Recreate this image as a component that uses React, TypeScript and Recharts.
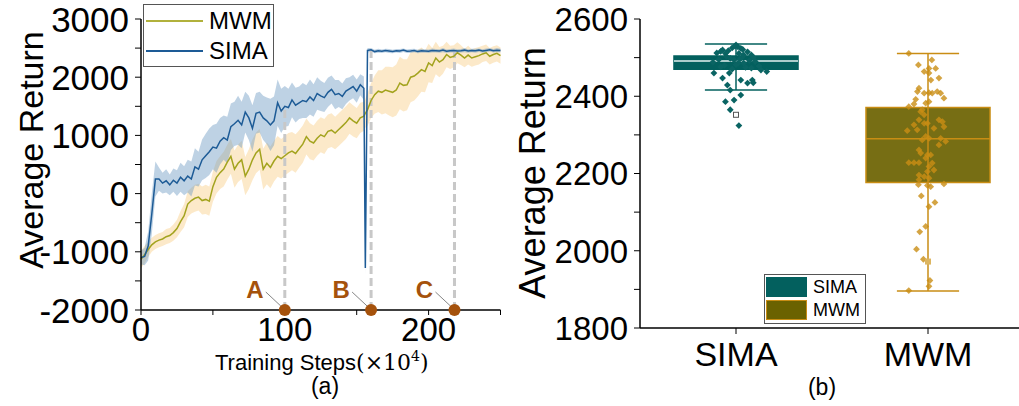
import React from 'react';
import {
  ComposedChart,
  Line,
  Area,
  Scatter,
  XAxis,
  YAxis,
  ReferenceLine,
  ReferenceDot,
  ReferenceArea,
} from 'recharts';

const FONT = '"Liberation Sans", Arial, sans-serif';

// ---- panel (a): learning curves ----
const steps = [
  0, 2.5, 5, 7.5, 10, 12.5, 15, 17.5, 20, 22.5, 25, 27.5, 30, 32.5, 35, 37.5, 40, 42.5, 45, 47.5, 50,
  52.5, 55, 57.5, 60, 62.5, 65, 67.5, 70, 72.5, 75, 77.5, 80, 82.5, 85, 87.5, 90, 92.5, 95, 97.5, 100,
  102.5, 105, 107.5, 110, 112.5, 115, 117.5, 120, 122.5, 125, 127.5, 130, 132.5, 135, 137.5, 140, 142.5,
  145, 147.5, 150, 152.5, 155, 156, 157.5, 160, 162.5, 165, 167.5, 170, 172.5, 175, 177.5, 180, 182.5,
  185, 187.5, 190, 192.5, 195, 197.5, 200, 202.5, 205, 207.5, 210, 212.5, 215, 217.5, 220, 222.5, 225,
  227.5, 230, 232.5, 235, 237.5, 240, 242.5, 245, 247.5, 250,
];

const simaReturn = [
  -1100, -1080, -900, -350, 250,
  250, 180, 220, 150, 230, 180, 280, 220, 300, 250, 460, 420,
  580, 650, 720, 800, 780, 900, 960, 920,
  1150, 1200, 1260, 1180, 1400, 1300, 1120, 1380,
  1400, 1300, 1250, 1180, 1250, 1560, 1420, 1500,
  1480, 1610, 1520, 1560, 1600, 1580, 1660, 1600,
  1720, 1680, 1650, 1740, 1790, 1700, 1720, 1670,
  1760, 1800, 1840, 1760, 1870, 1810,
  -1280,
  2460, 2470, 2440, 2455, 2445, 2460, 2450, 2440, 2455, 2450, 2465, 2445, 2450, 2460, 2440, 2455, 2450,
  2445, 2460, 2455, 2450, 2465, 2445, 2455, 2460, 2450, 2455, 2465, 2450, 2460, 2455, 2465, 2450, 2460,
  2470, 2455, 2465, 2460,
];

const mwmReturn = [
  -1130, -1050, -960, -880, -830,
  -800, -780, -740, -720, -670, -600, -480, -380, -180, -120, -80, -60,
  -120, -100, -130, 120, 280, 360, 420, 540,
  640, 420, 520, 580, 300, 420, 580, 700,
  760, 420, 520, 450, 560, 640, 600, 650,
  700, 730, 690, 770, 850, 980, 900, 870,
  950, 1010, 980, 1070, 1090, 1040, 1100, 1160,
  1220, 1300, 1250, 1210, 1300, 1330,
  1380,
  1440, 1600, 1700, 1760, 1740, 1780, 1760, 1740, 1780, 1900, 1860, 1870, 2000, 2020, 2070, 2130, 2100,
  2245, 2200, 2330, 2260, 2300, 2390, 2340, 2360, 2420, 2380, 2330, 2380, 2330, 2350, 2370, 2400, 2420,
  2360, 2390, 2410, 2370,
];

const simaSpread = [
  120, 150, 250, 350, 300,
  200, 180, 200, 180, 200, 220, 250, 250, 280, 300, 320, 300,
  350, 380, 400, 380, 420, 400, 380, 400,
  400, 380, 420, 400, 350, 380, 400, 350,
  350, 380, 400, 450, 420, 400, 380, 350,
  320, 300, 300, 280, 300, 280, 300, 280,
  280, 260, 250, 250, 240, 250, 230, 220,
  220, 200, 200, 200, 180, 200,
  100,
  40, 30, 30, 35, 30, 30, 35, 30, 30, 35, 30, 30, 35, 30, 30, 35, 30, 30, 35, 30,
  30, 35, 30, 30, 35, 30, 30, 35, 30, 30, 35, 30, 30, 35, 30, 30, 35, 30,
];

const mwmSpread = [
  150, 150, 130, 120, 120,
  120, 120, 130, 130, 140, 150, 180, 200, 220, 220, 230, 230,
  240, 250, 250, 260, 280, 280, 300, 300,
  300, 320, 320, 330, 330, 340, 350, 350,
  350, 350, 360, 360, 350, 350, 340, 340,
  340, 330, 330, 320, 320, 310, 310, 300,
  300, 300, 300, 290, 290, 280, 280, 280,
  280, 270, 270, 260, 260, 250,
  250,
  280, 300, 330, 360, 380, 400, 420, 430, 440, 450, 450, 440, 430, 420, 400, 380, 360, 330, 300, 280,
  260, 240, 220, 200, 190, 180, 170, 160, 160, 150, 150, 150, 140, 140, 140, 140, 140, 140,
];

const curveTicksX = [0, 50, 100, 150, 200, 250];
const curveLabelsX = [0, 100, 200];
const curveTicksY = [-2000, -1500, -1000, -500, 0, 500, 1000, 1500, 2000, 2500, 3000];
const curveLabelsY = [-2000, -1000, 0, 1000, 2000, 3000];

const phaseNames = ['A', 'B', 'C'];
const phaseSteps = [100, 160, 218];
const phaseTops = [1500, 2450, 2450];

// ---- panel (b): final returns ----
const groups = ['SIMA', 'MWM'];
const boxLow = [2416, 1896];
const boxQ1 = [2470, 2177];
const boxMedian = [2491, 2290];
const boxQ3 = [2504, 2371];
const boxHigh = [2535, 2511];
const boxTicksY = [1800, 1900, 2000, 2100, 2200, 2300, 2400, 2500, 2600];
const boxLabelsY = [1800, 2000, 2200, 2400, 2600];
const squareMarks = [2352, 1972];

const simaFinal = [
  2533, 2520, 2512, 2518, 2525, 2524, 2507, 2507, 2511, 2511, 2528, 2515, 2530, 2516, 2521,
  2460, 2464, 2447, 2460, 2442, 2434, 2442, 2435, 2429, 2416, 2403, 2386, 2390, 2365, 2324,
  2470, 2475, 2480, 2485, 2490, 2495, 2500, 2478, 2488, 2492, 2498, 2482, 2473, 2503, 2486,
  2494, 2468, 2476, 2496, 2501,
];
const simaJitter = [
  0, -0.07, -0.1, -0.04, -0.02, 0.025, 0.04, 0.08, -0.055, 0.015, 0.01, 0.06, -0.005, -0.08, 0.035,
  -0.115, 0.16, -0.07, -0.035, 0.025, 0.06, 0.085, 0.09, -0.045, -0.03, 0.025, -0.055, -0.01, -0.03, 0.015,
  -0.02, 0.05, -0.06, 0.01, 0.1, -0.09, 0.03, 0.12, -0.12, 0.07, -0.03, 0, 0.08, -0.05, 0.04,
  -0.01, 0.13, -0.08, 0.02, 0.09,
];

const mwmFinal = [
  2511, 2494, 2481, 2472, 2472, 2464, 2460, 2447, 2442, 2421, 2412, 2408, 2409, 2408, 2412, 2408,
  2395, 2392, 2382, 2386, 2380, 2373, 2365, 2360, 2352, 2339, 2326, 2330, 2330, 2339, 2334, 2313,
  2311, 2317, 2321, 2296, 2291, 2287, 2291, 2283, 2274, 2261, 2253, 2248, 2248, 2240, 2228, 2228,
  2228, 2227, 2218, 2209, 2205, 2196, 2192, 2188, 2184, 2171, 2169, 2166, 2173, 2142, 2125, 2114,
  2063, 2049, 2004, 1978, 1923, 1908, 1897,
];
const mwmJitter = [
  -0.1, 0.02, -0.05, 0.005, 0.04, -0.02, 0.005, 0.057, 0.015, -0.047, -0.055, -0.02, 0.005, 0.022, 0.048, 0.066,
  0.083, -0.064, -0.012, 0.005, -0.073, -0.1, -0.03, -0.038, -0.02, -0.047, -0.073, -0.02, -0.003, 0.057, 0.075, -0.056,
  -0.108, 0.031, 0.083, -0.012, 0.005, -0.03, 0.066, 0.092, 0.057, -0.047, -0.038, -0.003, 0.014, -0.012, -0.1, -0.073,
  -0.047, 0.022, 0.005, 0.031, -0.003, -0.047, -0.02, 0.005, -0.047, -0.05, -0.003, 0.014, 0.083, -0.035, 0.036, 0.005,
  -0.012, -0.043, -0.06, -0.024, 0.01, 0.005, -0.1,
];

const SIMA_LINE = '#1d5b96';
const MWM_LINE = '#a3a31e';
const TEAL = '#03605e';
const OLIVE = '#6b6200';
const GOLD = '#c98d14';
const BROWN = '#a5520c';

const curveData = steps.map((s, i) => ({
  step: s,
  sima: simaReturn[i],
  mwm: mwmReturn[i],
  simaBand: [simaReturn[i] - simaSpread[i], simaReturn[i] + simaSpread[i]],
  mwmBand: [mwmReturn[i] - mwmSpread[i], mwmReturn[i] + mwmSpread[i]],
}));

const simaDots = simaFinal.map((v, i) => ({ x: 0.5 + simaJitter[i], y: v }));
const mwmDots = mwmFinal.map((v, i) => ({ x: 1.5 + mwmJitter[i], y: v }));
const squareDots = squareMarks.map((v, i) => ({ x: i + 0.5, y: v }));

const StepTick = ({ x, y, payload }: any) =>
  curveLabelsX.includes(payload.value) ? (
    <text x={x} y={y + 24} textAnchor='middle' fontSize={33} fontFamily={FONT} fill='#000'>
      {payload.value}
    </text>
  ) : (
    <g />
  );

const ReturnTick = (labels: number[], size: number) => ({ x, y, payload }: any) =>
  labels.includes(payload.value) ? (
    <text x={x - 4} y={y + size * 0.36} textAnchor='end' fontSize={size} fontFamily={FONT} fill='#000'>
      {payload.value}
    </text>
  ) : (
    <g />
  );

const GroupTick = ({ x, y, payload }: any) => (
  <text x={x} y={y + 30} textAnchor='middle' fontSize={34} fontFamily={FONT} fill='#000'>
    {groups[Math.round(payload.value - 0.5)]}
  </text>
);

const PhaseMark = ({ cx, cy, name }: any) => (
  <g>
    <line x1={cx - 19} y1={cy - 18} x2={cx - 4} y2={cy - 4} stroke='#666' strokeWidth={0.8} />
    <text x={cx - 30} y={cy - 12} textAnchor='middle' fontSize={24} fontWeight='bold' fontFamily={FONT} fill={BROWN}>
      {name}
    </text>
    <circle cx={cx} cy={cy} r={6} fill={BROWN} />
  </g>
);

const Diamond = (color: string, opacity: number) => ({ cx, cy }: any) => (
  <path
    d={`M${cx},${cy - 3.4}L${cx + 3.4},${cy}L${cx},${cy + 3.4}L${cx - 3.4},${cy}Z`}
    fill={color}
    fillOpacity={opacity}
  />
);

const label = (x: number, y: number, size: number, text: string) => (
  <div
    style={{
      position: 'absolute',
      left: x - 200,
      top: y,
      width: 400,
      textAlign: 'center',
      fontFamily: FONT,
      fontSize: size,
      lineHeight: 1,
      whiteSpace: 'nowrap',
    }}
  >
    {text}
  </div>
);

export default function App() {
  return (
    <div
      style={{
        position: 'absolute',
        left: 0,
        top: 0,
        width: 1019,
        height: 406,
        overflow: 'hidden',
        background: '#fff',
      }}
    >
      {/* (a) learning curves */}
      <div style={{ position: 'absolute', left: 0, top: 0 }}>
        <ComposedChart width={510} height={406} data={curveData} margin={{ top: 19, right: 9.5, left: 0, bottom: 0 }}>
          <XAxis
            dataKey='step'
            type='number'
            domain={[0, 250]}
            ticks={curveTicksX}
            tick={StepTick}
            tickSize={5}
            height={96}
            axisLine={{ stroke: '#000', strokeWidth: 1.5 }}
            tickLine={{ stroke: '#000' }}
          />
          <YAxis
            type='number'
            domain={[-2000, 3000]}
            ticks={curveTicksY}
            tick={ReturnTick(curveLabelsY, 35)}
            tickSize={6}
            width={141}
            axisLine={{ stroke: '#000', strokeWidth: 1.5 }}
            tickLine={{ stroke: '#000' }}
          />
          {phaseSteps.map((s, i) => (
            <ReferenceLine
              key={'dash' + i}
              segment={[
                { x: s, y: -2000 },
                { x: s, y: phaseTops[i] },
              ]}
              stroke='#c8c8c8'
              strokeWidth={3}
              strokeDasharray='8 4'
            />
          ))}
          <Area
            dataKey='mwmBand'
            type='linear'
            stroke='none'
            fill='#f9cf88'
            fillOpacity={0.45}
            isAnimationActive={false}
          />
          <Area
            dataKey='simaBand'
            type='linear'
            stroke='none'
            fill='#6f9bc4'
            fillOpacity={0.45}
            isAnimationActive={false}
          />
          <Line dataKey='mwm' type='linear' stroke={MWM_LINE} strokeWidth={1.5} dot={false} isAnimationActive={false} />
          <Line dataKey='sima' type='linear' stroke={SIMA_LINE} strokeWidth={1.5} dot={false} isAnimationActive={false} />
          {phaseSteps.map((s, i) => (
            <ReferenceDot
              key={'phase' + i}
              x={s}
              y={-2000}
              r={6}
              shape={(p: any) => <PhaseMark {...p} name={phaseNames[i]} />}
            />
          ))}
        </ComposedChart>
      </div>

      {/* legend (a) */}
      <div
        style={{
          position: 'absolute',
          left: 143,
          top: 4,
          width: 129,
          height: 61,
          border: '1px solid #555',
          background: '#fff',
          fontFamily: FONT,
          fontSize: 24,
        }}
      >
        {[
          ['MWM', '#b1b13c'],
          ['SIMA', SIMA_LINE],
        ].map(([name, color], i) => (
          <div key={name} style={{ position: 'absolute', left: 0, top: i * 30 + 2, height: 28, display: 'flex', alignItems: 'center' }}>
            <div style={{ width: 57, height: 2.5, background: color, marginLeft: 2, marginRight: 6 }} />
            <span>{name}</span>
          </div>
        ))}
      </div>

      <svg style={{ position: 'absolute', left: 0, top: 0 }} width={510} height={406}>
        <text x={215} y={370} fontFamily={FONT} fontSize={22} fill='#000'>
          Training Steps
          <tspan fontFamily='"DejaVu Serif", serif' fontSize={22}>(×10</tspan>
          <tspan fontFamily='"DejaVu Serif", serif' fontSize={14} dy={-9}>4</tspan>
          <tspan fontFamily='"DejaVu Serif", serif' fontSize={22} dy={9}>)</tspan>
        </text>
        <text
          transform='translate(31,150) rotate(-90)'
          textAnchor='middle'
          dominantBaseline='central'
          fontFamily={FONT}
          fontSize={34}
          fill='#000'
        >
          Average Return
        </text>
      </svg>
      {label(325, 375, 23, '(a)')}

      {/* (b) box plot */}
      <div style={{ position: 'absolute', left: 510, top: 0 }}>
        <ComposedChart width={520} height={406} margin={{ top: 19, right: 6, left: 0, bottom: 0 }}>
          <XAxis
            dataKey='x'
            type='number'
            domain={[0, 2]}
            ticks={[0.5, 1.5]}
            tick={GroupTick}
            tickSize={6}
            height={78}
            axisLine={{ stroke: '#000', strokeWidth: 1.5 }}
            tickLine={{ stroke: '#000' }}
          />
          <YAxis
            dataKey='y'
            type='number'
            domain={[1800, 2600]}
            ticks={boxTicksY}
            tick={ReturnTick(boxLabelsY, 33)}
            tickSize={6}
            width={130}
            axisLine={{ stroke: '#000', strokeWidth: 1.5 }}
            tickLine={{ stroke: '#000' }}
          />
          {groups.map((g, i) => (
            <ReferenceLine
              key={'wl' + g}
              segment={[
                { x: i + 0.5, y: boxLow[i] },
                { x: i + 0.5, y: boxHigh[i] },
              ]}
              stroke={i === 0 ? TEAL : GOLD}
              strokeWidth={1.5}
            />
          ))}
          {groups.map((g, i) => (
            <ReferenceArea
              key={'box' + g}
              x1={i + 0.5 - 0.323}
              x2={i + 0.5 + 0.323}
              y1={boxQ1[i]}
              y2={boxQ3[i]}
              fill={i === 0 ? TEAL : OLIVE}
              fillOpacity={i === 0 ? 1 : 0.92}
              stroke={i === 0 ? TEAL : GOLD}
              strokeWidth={1.5}
            />
          ))}
          <Scatter data={simaDots} shape={Diamond('#0a6463', 1)} isAnimationActive={false} />
          <Scatter data={mwmDots} shape={Diamond(GOLD, 0.8)} isAnimationActive={false} />
          <Scatter
            data={squareDots}
            shape={({ cx, cy, payload }: any) => (
              <rect
                x={cx - 2.5}
                y={cy - 2.5}
                width={5}
                height={5}
                fill={payload.x < 1 ? '#fff' : '#dcb560'}
                stroke={payload.x < 1 ? '#555' : '#dcb560'}
                strokeWidth={1}
              />
            )}
            isAnimationActive={false}
          />
          {groups.map((g, i) => (
            <ReferenceLine
              key={'med' + g}
              segment={[
                { x: i + 0.5 - 0.323, y: boxMedian[i] },
                { x: i + 0.5 + 0.323, y: boxMedian[i] },
              ]}
              stroke={i === 0 ? '#e6f2f2' : GOLD}
              strokeWidth={1.5}
            />
          ))}
          {groups.flatMap((g, i) =>
            [boxLow[i], boxHigh[i]].map((v, j) => (
              <ReferenceLine
                key={'cap' + g + j}
                segment={[
                  { x: i + 0.5 - 0.162, y: v },
                  { x: i + 0.5 + 0.162, y: v },
                ]}
                stroke={i === 0 ? TEAL : GOLD}
                strokeWidth={1.5}
              />
            ))
          )}
        </ComposedChart>
      </div>

      {/* legend (b) */}
      <div
        style={{
          position: 'absolute',
          left: 764,
          top: 274,
          width: 100,
          height: 48,
          border: '1px solid #555',
          background: '#fff',
          fontFamily: FONT,
          fontSize: 18,
        }}
      >
        {[
          ['SIMA', TEAL, TEAL],
          ['MWM', OLIVE, GOLD],
        ].map(([name, fill, edge], i) => (
          <div key={name} style={{ position: 'absolute', left: 1, top: i * 23 + 1, height: 22, display: 'flex', alignItems: 'center' }}>
            <div style={{ width: 41, height: 20, background: fill, border: `1px solid ${edge}`, boxSizing: 'border-box', marginRight: 6 }} />
            <span>{name}</span>
          </div>
        ))}
      </div>

      <svg style={{ position: 'absolute', left: 510, top: 0 }} width={120} height={406}>
        <text
          transform='translate(22,173) rotate(-90)'
          textAnchor='middle'
          dominantBaseline='central'
          fontFamily={FONT}
          fontSize={36}
          fill='#000'
        >
          Average Return
        </text>
      </svg>
      {label(822, 376, 23, '(b)')}
    </div>
  );
}
